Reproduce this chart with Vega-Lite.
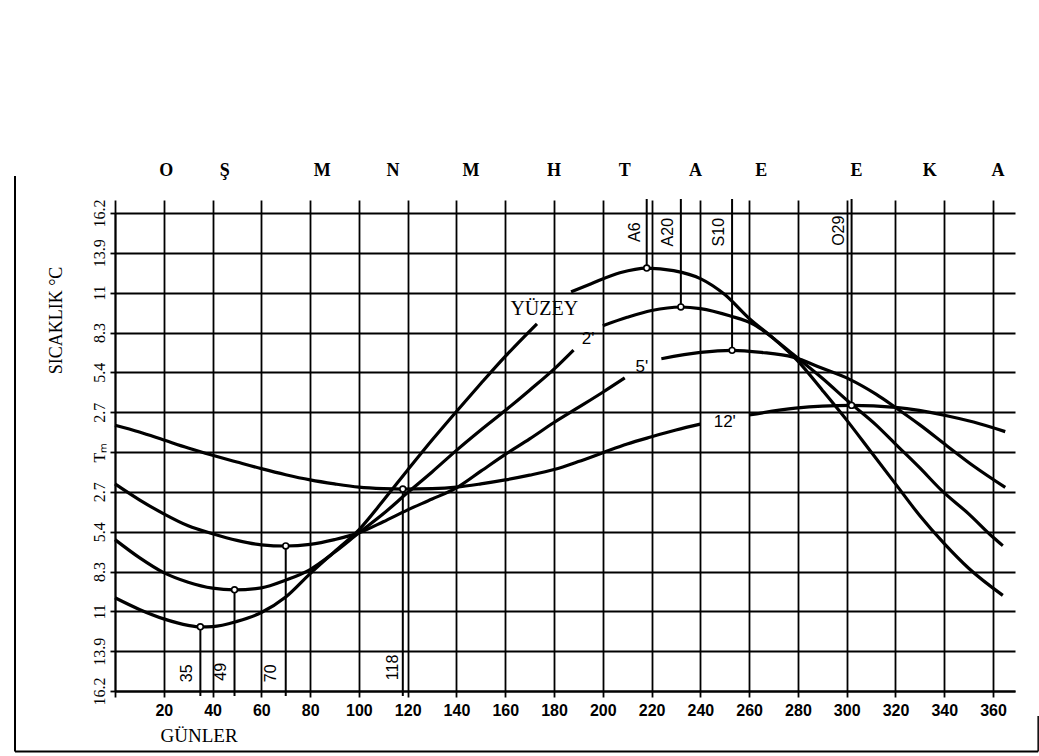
{
  "$schema": "https://vega.github.io/schema/vega-lite/v6.json",
  "width": 900,
  "height": 478,
  "autosize": {"type": "none"},
  "padding": {"left": 115, "top": 213, "right": 24, "bottom": 65},
  "background": "white",
  "config": {
    "view": {"stroke": null},
    "axis": {"domainColor": "black", "tickColor": "black", "gridColor": "black", "gridOpacity": 1, "labelColor": "black", "titleColor": "black"}
  },
  "datasets": {
    "egriler": [
      {"egri": "YÜZEY", "parca": "Y1", "gun": 0, "t": -9.88},
      {"egri": "YÜZEY", "parca": "Y1", "gun": 10, "t": -10.67},
      {"egri": "YÜZEY", "parca": "Y1", "gun": 20, "t": -11.31},
      {"egri": "YÜZEY", "parca": "Y1", "gun": 30, "t": -11.75},
      {"egri": "YÜZEY", "parca": "Y1", "gun": 35, "t": -11.85},
      {"egri": "YÜZEY", "parca": "Y1", "gun": 40, "t": -11.83},
      {"egri": "YÜZEY", "parca": "Y1", "gun": 50, "t": -11.48},
      {"egri": "YÜZEY", "parca": "Y1", "gun": 60, "t": -10.88},
      {"egri": "YÜZEY", "parca": "Y1", "gun": 70, "t": -9.83},
      {"egri": "YÜZEY", "parca": "Y1", "gun": 80, "t": -8.24},
      {"egri": "YÜZEY", "parca": "Y1", "gun": 90, "t": -6.75},
      {"egri": "YÜZEY", "parca": "Y1", "gun": 100, "t": -5.27},
      {"egri": "YÜZEY", "parca": "Y1", "gun": 110, "t": -3.29},
      {"egri": "YÜZEY", "parca": "Y1", "gun": 120, "t": -1.22},
      {"egri": "YÜZEY", "parca": "Y1", "gun": 130, "t": 0.81},
      {"egri": "YÜZEY", "parca": "Y1", "gun": 140, "t": 2.75},
      {"egri": "YÜZEY", "parca": "Y1", "gun": 150, "t": 4.64},
      {"egri": "YÜZEY", "parca": "Y1", "gun": 160, "t": 6.48},
      {"egri": "YÜZEY", "parca": "Y1", "gun": 173, "t": 8.69},
      {"egri": "YÜZEY", "parca": "Y2", "gun": 187, "t": 10.85},
      {"egri": "YÜZEY", "parca": "Y2", "gun": 195, "t": 11.39},
      {"egri": "YÜZEY", "parca": "Y2", "gun": 207, "t": 12.15},
      {"egri": "YÜZEY", "parca": "Y2", "gun": 218, "t": 12.47},
      {"egri": "YÜZEY", "parca": "Y2", "gun": 229, "t": 12.29},
      {"egri": "YÜZEY", "parca": "Y2", "gun": 240, "t": 11.75},
      {"egri": "YÜZEY", "parca": "Y2", "gun": 250, "t": 10.67},
      {"egri": "YÜZEY", "parca": "Y2", "gun": 260, "t": 9.05},
      {"egri": "YÜZEY", "parca": "Y2", "gun": 270, "t": 7.7},
      {"egri": "YÜZEY", "parca": "Y2", "gun": 280, "t": 6.16},
      {"egri": "YÜZEY", "parca": "Y2", "gun": 290, "t": 4.19},
      {"egri": "YÜZEY", "parca": "Y2", "gun": 300, "t": 2.16},
      {"egri": "YÜZEY", "parca": "Y2", "gun": 310, "t": 0.0},
      {"egri": "YÜZEY", "parca": "Y2", "gun": 320, "t": -2.16},
      {"egri": "YÜZEY", "parca": "Y2", "gun": 330, "t": -4.32},
      {"egri": "YÜZEY", "parca": "Y2", "gun": 340, "t": -6.21},
      {"egri": "YÜZEY", "parca": "Y2", "gun": 350, "t": -7.88},
      {"egri": "YÜZEY", "parca": "Y2", "gun": 364, "t": -9.72},

      {"egri": "2'", "parca": "A1", "gun": 0, "t": -5.94},
      {"egri": "2'", "parca": "A1", "gun": 10, "t": -7.16},
      {"egri": "2'", "parca": "A1", "gun": 20, "t": -8.18},
      {"egri": "2'", "parca": "A1", "gun": 30, "t": -8.83},
      {"egri": "2'", "parca": "A1", "gun": 40, "t": -9.23},
      {"egri": "2'", "parca": "A1", "gun": 49, "t": -9.34},
      {"egri": "2'", "parca": "A1", "gun": 60, "t": -9.21},
      {"egri": "2'", "parca": "A1", "gun": 70, "t": -8.69},
      {"egri": "2'", "parca": "A1", "gun": 80, "t": -7.97},
      {"egri": "2'", "parca": "A1", "gun": 90, "t": -6.8},
      {"egri": "2'", "parca": "A1", "gun": 100, "t": -5.48},
      {"egri": "2'", "parca": "A1", "gun": 110, "t": -4.19},
      {"egri": "2'", "parca": "A1", "gun": 120, "t": -2.75},
      {"egri": "2'", "parca": "A1", "gun": 130, "t": -1.35},
      {"egri": "2'", "parca": "A1", "gun": 140, "t": 0.11},
      {"egri": "2'", "parca": "A1", "gun": 150, "t": 1.49},
      {"egri": "2'", "parca": "A1", "gun": 160, "t": 2.81},
      {"egri": "2'", "parca": "A1", "gun": 170, "t": 4.19},
      {"egri": "2'", "parca": "A1", "gun": 180, "t": 5.62},
      {"egri": "2'", "parca": "A1", "gun": 188, "t": 6.91},
      {"egri": "2'", "parca": "A2", "gun": 200, "t": 8.56},
      {"egri": "2'", "parca": "A2", "gun": 210, "t": 9.13},
      {"egri": "2'", "parca": "A2", "gun": 220, "t": 9.59},
      {"egri": "2'", "parca": "A2", "gun": 232, "t": 9.83},
      {"egri": "2'", "parca": "A2", "gun": 240, "t": 9.72},
      {"egri": "2'", "parca": "A2", "gun": 252, "t": 9.23},
      {"egri": "2'", "parca": "A2", "gun": 262, "t": 8.64},
      {"egri": "2'", "parca": "A2", "gun": 270, "t": 7.7},
      {"egri": "2'", "parca": "A2", "gun": 278, "t": 6.62},
      {"egri": "2'", "parca": "A2", "gun": 290, "t": 5.0},
      {"egri": "2'", "parca": "A2", "gun": 301, "t": 3.38},
      {"egri": "2'", "parca": "A2", "gun": 312, "t": 1.84},
      {"egri": "2'", "parca": "A2", "gun": 320, "t": 0.54},
      {"egri": "2'", "parca": "A2", "gun": 330, "t": -1.08},
      {"egri": "2'", "parca": "A2", "gun": 339, "t": -2.62},
      {"egri": "2'", "parca": "A2", "gun": 350, "t": -4.19},
      {"egri": "2'", "parca": "A2", "gun": 360, "t": -5.78},
      {"egri": "2'", "parca": "A2", "gun": 364, "t": -6.35},

      {"egri": "5'", "parca": "B1", "gun": 0, "t": -2.16},
      {"egri": "5'", "parca": "B1", "gun": 10, "t": -3.24},
      {"egri": "5'", "parca": "B1", "gun": 20, "t": -4.19},
      {"egri": "5'", "parca": "B1", "gun": 30, "t": -5.0},
      {"egri": "5'", "parca": "B1", "gun": 40, "t": -5.54},
      {"egri": "5'", "parca": "B1", "gun": 50, "t": -5.99},
      {"egri": "5'", "parca": "B1", "gun": 60, "t": -6.29},
      {"egri": "5'", "parca": "B1", "gun": 70, "t": -6.37},
      {"egri": "5'", "parca": "B1", "gun": 80, "t": -6.26},
      {"egri": "5'", "parca": "B1", "gun": 90, "t": -5.94},
      {"egri": "5'", "parca": "B1", "gun": 100, "t": -5.48},
      {"egri": "5'", "parca": "B1", "gun": 110, "t": -4.73},
      {"egri": "5'", "parca": "B1", "gun": 120, "t": -3.92},
      {"egri": "5'", "parca": "B1", "gun": 130, "t": -3.19},
      {"egri": "5'", "parca": "B1", "gun": 140, "t": -2.43},
      {"egri": "5'", "parca": "B1", "gun": 150, "t": -1.3},
      {"egri": "5'", "parca": "B1", "gun": 160, "t": -0.16},
      {"egri": "5'", "parca": "B1", "gun": 170, "t": 0.89},
      {"egri": "5'", "parca": "B1", "gun": 180, "t": 2.0},
      {"egri": "5'", "parca": "B1", "gun": 190, "t": 3.02},
      {"egri": "5'", "parca": "B1", "gun": 200, "t": 4.05},
      {"egri": "5'", "parca": "B1", "gun": 209, "t": 5.02},
      {"egri": "5'", "parca": "B2", "gun": 224, "t": 6.32},
      {"egri": "5'", "parca": "B2", "gun": 240, "t": 6.75},
      {"egri": "5'", "parca": "B2", "gun": 253, "t": 6.89},
      {"egri": "5'", "parca": "B2", "gun": 265, "t": 6.75},
      {"egri": "5'", "parca": "B2", "gun": 278, "t": 6.43},
      {"egri": "5'", "parca": "B2", "gun": 290, "t": 5.67},
      {"egri": "5'", "parca": "B2", "gun": 301, "t": 4.94},
      {"egri": "5'", "parca": "B2", "gun": 312, "t": 3.92},
      {"egri": "5'", "parca": "B2", "gun": 320, "t": 3.02},
      {"egri": "5'", "parca": "B2", "gun": 330, "t": 1.84},
      {"egri": "5'", "parca": "B2", "gun": 341, "t": 0.43},
      {"egri": "5'", "parca": "B2", "gun": 352, "t": -0.95},
      {"egri": "5'", "parca": "B2", "gun": 365, "t": -2.4},

      {"egri": "12'", "parca": "C1", "gun": 0, "t": 1.81},
      {"egri": "12'", "parca": "C1", "gun": 10, "t": 1.35},
      {"egri": "12'", "parca": "C1", "gun": 20, "t": 0.81},
      {"egri": "12'", "parca": "C1", "gun": 30, "t": 0.27},
      {"egri": "12'", "parca": "C1", "gun": 40, "t": -0.22},
      {"egri": "12'", "parca": "C1", "gun": 50, "t": -0.68},
      {"egri": "12'", "parca": "C1", "gun": 60, "t": -1.13},
      {"egri": "12'", "parca": "C1", "gun": 70, "t": -1.54},
      {"egri": "12'", "parca": "C1", "gun": 80, "t": -1.89},
      {"egri": "12'", "parca": "C1", "gun": 90, "t": -2.16},
      {"egri": "12'", "parca": "C1", "gun": 100, "t": -2.38},
      {"egri": "12'", "parca": "C1", "gun": 110, "t": -2.48},
      {"egri": "12'", "parca": "C1", "gun": 118, "t": -2.51},
      {"egri": "12'", "parca": "C1", "gun": 130, "t": -2.48},
      {"egri": "12'", "parca": "C1", "gun": 140, "t": -2.38},
      {"egri": "12'", "parca": "C1", "gun": 150, "t": -2.16},
      {"egri": "12'", "parca": "C1", "gun": 160, "t": -1.89},
      {"egri": "12'", "parca": "C1", "gun": 170, "t": -1.57},
      {"egri": "12'", "parca": "C1", "gun": 180, "t": -1.19},
      {"egri": "12'", "parca": "C1", "gun": 190, "t": -0.65},
      {"egri": "12'", "parca": "C1", "gun": 200, "t": -0.05},
      {"egri": "12'", "parca": "C1", "gun": 210, "t": 0.54},
      {"egri": "12'", "parca": "C1", "gun": 220, "t": 1.03},
      {"egri": "12'", "parca": "C1", "gun": 230, "t": 1.49},
      {"egri": "12'", "parca": "C1", "gun": 240, "t": 1.89},
      {"egri": "12'", "parca": "C2", "gun": 260, "t": 2.51},
      {"egri": "12'", "parca": "C2", "gun": 279, "t": 2.97},
      {"egri": "12'", "parca": "C2", "gun": 290, "t": 3.11},
      {"egri": "12'", "parca": "C2", "gun": 302, "t": 3.16},
      {"egri": "12'", "parca": "C2", "gun": 320, "t": 3.02},
      {"egri": "12'", "parca": "C2", "gun": 341, "t": 2.46},
      {"egri": "12'", "parca": "C2", "gun": 352, "t": 2.03},
      {"egri": "12'", "parca": "C2", "gun": 365, "t": 1.38}
    ],
    "noktalar": [
      {"egri": "YÜZEY", "gun": 35, "t": -11.85, "uc": -16.54},
      {"egri": "2'", "gun": 49, "t": -9.34, "uc": -16.54},
      {"egri": "5'", "gun": 70, "t": -6.37, "uc": -16.54},
      {"egri": "12'", "gun": 118, "t": -2.51, "uc": -16.54},
      {"egri": "YÜZEY", "gun": 218, "t": 12.47, "uc": 17.15},
      {"egri": "2'", "gun": 232, "t": 9.83, "uc": 17.15},
      {"egri": "5'", "gun": 253, "t": 6.89, "uc": 17.15},
      {"egri": "12'", "gun": 302, "t": 3.16, "uc": 17.15}
    ],
    "isaretler": [
      {"yazi": "35", "gun": 29.5, "t": -15.0},
      {"yazi": "49", "gun": 43.5, "t": -14.9},
      {"yazi": "70", "gun": 64, "t": -15.0},
      {"yazi": "118", "gun": 114, "t": -14.6},
      {"yazi": "A6", "gun": 213, "t": 14.9},
      {"yazi": "A20", "gun": 226.7, "t": 14.9},
      {"yazi": "S10", "gun": 247.7, "t": 14.9},
      {"yazi": "O29", "gun": 297, "t": 15.0}
    ],
    "adlar": [
      {"ad": "YÜZEY", "gun": 176, "t": 9.7},
      {"ad": "2'", "gun": 194, "t": 7.66},
      {"ad": "5'", "gun": 216, "t": 5.76},
      {"ad": "12'", "gun": 250, "t": 2.03}
    ],
    "aylar": [
      {"ay": "O", "gun": 21},
      {"ay": "Ş", "gun": 45},
      {"ay": "M", "gun": 85},
      {"ay": "N", "gun": 114},
      {"ay": "M", "gun": 146},
      {"ay": "H", "gun": 180},
      {"ay": "T", "gun": 209},
      {"ay": "A", "gun": 238},
      {"ay": "E", "gun": 265},
      {"ay": "E", "gun": 304},
      {"ay": "K", "gun": 334},
      {"ay": "A", "gun": 362}
    ]
  },
  "resolve": {"axis": {"x": "independent", "y": "independent"}},
  "layer": [
    {
      "data": {"name": "egriler"},
      "mark": {"type": "line", "interpolate": "monotone", "color": "black", "strokeWidth": 3.2},
      "encoding": {
        "x": {
          "field": "gun", "type": "quantitative",
          "scale": {"domain": [0, 369], "nice": false, "zero": false},
          "axis": {
            "orient": "bottom",
            "values": [0, 20, 40, 60, 80, 100, 120, 140, 160, 180, 200, 220, 240, 260, 280, 300, 320, 340, 360],
            "grid": true, "gridWidth": 1.8, "domainWidth": 1.8,
            "tickSize": 6, "tickWidth": 1.8,
            "labelExpr": "datum.value == 0 ? '' : datum.label",
            "labelFont": "Liberation Sans", "labelFontWeight": "bold", "labelFontSize": 16,
            "labelPadding": 5, "labelFlush": false, "labelOverlap": false,
            "title": "GÜNLER", "titleFont": "Liberation Serif", "titleFontWeight": "normal", "titleFontSize": 19,
            "titleX": 45, "titleY": 44, "titleAlign": "left", "titleBaseline": "middle"
          }
        },
        "y": {
          "field": "t", "type": "quantitative",
          "scale": {"domain": [-16.2, 16.2], "nice": false, "zero": false},
          "axis": {
            "orient": "left",
            "values": [-16.2, -13.5, -10.8, -8.1, -5.4, -2.7, 0, 2.7, 5.4, 8.1, 10.8, 13.5, 16.2],
            "grid": true, "gridWidth": 1.8, "domain": true, "domainWidth": 1.8,
            "tickSize": 5, "tickWidth": 1.8,
            "labelExpr": "abs(datum.value) < 1 ? 'Tₘ' : abs(datum.value) < 4 ? '2.7' : abs(datum.value) < 6 ? '5.4' : abs(datum.value) < 9 ? '8.3' : abs(datum.value) < 12 ? '11' : abs(datum.value) < 15 ? '13.9' : '16.2'",
            "labelAngle": 270, "labelAlign": "center", "labelBaseline": "middle",
            "labelPadding": 11, "labelFont": "Liberation Serif", "labelFontSize": 16,
            "labelFlush": false, "labelOverlap": false,
            "title": "SICAKLIK °C", "titleFont": "Liberation Serif", "titleFontWeight": "normal", "titleFontSize": 18,
            "titleAngle": 270, "titleX": -59, "titleY": 107, "titleAlign": "center", "titleBaseline": "middle"
          }
        },
        "detail": {"field": "parca"}
      }
    },
    {
      "data": {"name": "noktalar"},
      "mark": {"type": "rule", "color": "black", "strokeWidth": 2},
      "encoding": {
        "x": {
          "field": "gun", "type": "quantitative",
          "axis": {
            "orient": "top",
            "values": [0, 20, 40, 60, 80, 100, 120, 140, 160, 180, 200, 220, 240, 260, 280, 300, 320, 340, 360],
            "labels": false, "domain": false, "grid": false,
            "tickSize": 13, "tickWidth": 1.8, "title": null
          }
        },
        "y": {"field": "t", "type": "quantitative", "axis": null},
        "y2": {"field": "uc"}
      }
    },
    {
      "data": {"name": "noktalar"},
      "mark": {"type": "point", "shape": "circle", "filled": true, "fill": "white", "stroke": "black", "strokeWidth": 1.6, "size": 34, "opacity": 1},
      "encoding": {
        "x": {"field": "gun", "type": "quantitative", "axis": null},
        "y": {"field": "t", "type": "quantitative", "axis": null}
      }
    },
    {
      "data": {"name": "adlar"},
      "transform": [{"filter": "datum.ad == 'YÜZEY'"}],
      "mark": {"type": "text", "font": "Liberation Serif", "fontSize": 20, "color": "black", "align": "center", "baseline": "middle"},
      "encoding": {
        "x": {"field": "gun", "type": "quantitative", "axis": null},
        "y": {"field": "t", "type": "quantitative", "axis": null},
        "text": {"field": "ad"}
      }
    },
    {
      "data": {"name": "adlar"},
      "transform": [{"filter": "datum.ad != 'YÜZEY'"}],
      "mark": {"type": "text", "font": "Liberation Sans", "fontSize": 17, "color": "black", "align": "center", "baseline": "middle"},
      "encoding": {
        "x": {"field": "gun", "type": "quantitative", "axis": null},
        "y": {"field": "t", "type": "quantitative", "axis": null},
        "text": {"field": "ad"}
      }
    },
    {
      "data": {"name": "isaretler"},
      "mark": {"type": "text", "font": "Liberation Sans", "fontSize": 16, "color": "black", "align": "center", "baseline": "middle", "angle": 270},
      "encoding": {
        "x": {"field": "gun", "type": "quantitative", "axis": null},
        "y": {"field": "t", "type": "quantitative", "axis": null},
        "text": {"field": "yazi"}
      }
    },
    {
      "data": {"name": "aylar"},
      "mark": {"type": "text", "font": "Liberation Serif", "fontWeight": "bold", "fontSize": 18, "color": "black", "align": "center", "baseline": "middle"},
      "encoding": {
        "x": {"field": "gun", "type": "quantitative", "axis": null},
        "y": {"datum": 19.05, "type": "quantitative", "axis": null},
        "text": {"field": "ay"}
      }
    },
    {
      "data": {"values": [{}]},
      "mark": {"type": "rule", "color": "black", "strokeWidth": 2},
      "encoding": {
        "x": {"datum": -41, "type": "quantitative", "axis": null},
        "y": {"datum": 18.7, "type": "quantitative", "axis": null},
        "y2": {"datum": -20.3}
      }
    },
    {
      "data": {"values": [{}]},
      "mark": {"type": "rule", "color": "black", "strokeWidth": 2},
      "encoding": {
        "x": {"datum": -41, "type": "quantitative", "axis": null},
        "x2": {"datum": 378.5},
        "y": {"datum": -20.3, "type": "quantitative", "axis": null}
      }
    },
    {
      "data": {"values": [{}]},
      "mark": {"type": "rule", "color": "black", "strokeWidth": 1.5},
      "encoding": {
        "x": {"datum": 378.5, "type": "quantitative", "axis": null},
        "y": {"datum": -17.9, "type": "quantitative", "axis": null},
        "y2": {"datum": -20.3}
      }
    }
  ]
}
